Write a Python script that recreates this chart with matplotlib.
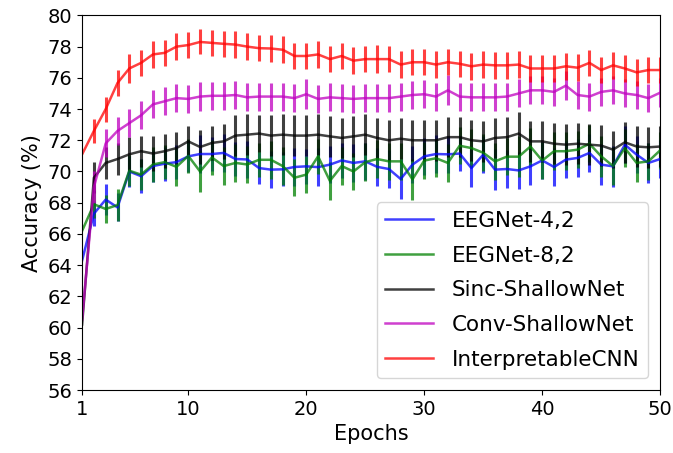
import matplotlib
matplotlib.use("Agg")
import matplotlib.pyplot as plt
import numpy as np

epochs = list(range(1, 51))

eegnet42 = [64.3, 67.3, 68.2, 67.7, 70.0, 69.7, 70.35, 70.5, 70.6, 70.97,
            71.12, 71.12, 71.19, 70.8, 70.77, 70.22, 70.12, 70.14, 70.29, 70.33,
            70.28, 70.44, 70.71, 70.55, 70.65, 70.3, 70.16, 69.52, 70.44, 70.97,
            71.12, 71.1, 71.15, 70.22, 71.08, 70.12, 70.16, 70.07, 70.33, 70.71,
            70.29, 70.76, 70.87, 71.19, 70.44, 70.33, 71.72, 71.08, 70.55, 70.8]
eegnet42_err = [0.0, 0.8, 1.0, 0.9, 1.0, 1.1, 1.0, 1.1, 1.1, 1.0,
                1.2, 1.1, 1.2, 1.1, 1.2, 1.0, 1.2, 1.1, 1.2, 1.1,
                1.2, 1.2, 1.1, 1.2, 1.2, 1.2, 1.2, 1.3, 1.2, 1.2,
                1.2, 1.2, 1.1, 1.2, 1.2, 1.3, 1.2, 1.2, 1.2, 1.2,
                1.2, 1.2, 1.2, 1.2, 1.3, 1.3, 1.2, 1.2, 1.3, 1.2]

eegnet82 = [66.2, 67.9, 67.6, 67.85, 70.05, 69.8, 70.45, 70.6, 70.3, 71.0,
            70.0, 70.9, 70.35, 70.55, 70.45, 70.75, 70.75, 70.35, 69.6, 69.8,
            70.97, 69.4, 70.35, 70.0, 70.6, 70.8, 70.65, 70.65, 69.5, 70.7,
            70.85, 70.55, 71.65, 71.5, 71.2, 70.65, 70.95, 70.95, 71.6, 70.7,
            71.3, 71.3, 71.4, 71.78, 70.97, 70.35, 71.5, 70.55, 70.65, 71.36]
eegnet82_err = [0.0, 0.9, 0.9, 1.0, 1.0, 1.0, 1.1, 1.1, 1.2, 1.1,
                1.3, 1.1, 1.2, 1.2, 1.2, 1.1, 1.2, 1.2, 1.2, 1.2,
                1.1, 1.2, 1.2, 1.2, 1.2, 1.2, 1.2, 1.2, 1.3, 1.2,
                1.2, 1.2, 1.2, 1.2, 1.2, 1.2, 1.2, 1.3, 1.2, 1.2,
                1.2, 1.2, 1.2, 1.2, 1.3, 1.2, 1.2, 1.2, 1.2, 1.2]

sinc = [60.2, 69.6, 70.55, 70.8, 71.1, 71.3, 71.15, 71.3, 71.5, 71.93,
        71.57, 71.83, 71.93, 72.3, 72.36, 72.43, 72.3, 72.36, 72.3, 72.3,
        72.36, 72.25, 72.15, 72.25, 72.36, 72.15, 72.0, 72.1, 72.0, 72.0,
        72.0, 72.2, 72.2, 72.0, 71.93, 72.15, 72.2, 72.43, 71.93, 71.93,
        71.78, 71.72, 71.78, 71.72, 71.66, 71.4, 71.87, 71.6, 71.55, 71.6]
sinc_err = [0.0, 1.0, 1.0, 1.0, 1.1, 1.0, 1.1, 1.1, 1.0, 1.0,
            1.1, 1.1, 1.1, 1.3, 1.3, 1.2, 1.3, 1.3, 1.3, 1.3,
            1.3, 1.3, 1.3, 1.3, 1.3, 1.3, 1.3, 1.3, 1.3, 1.3,
            1.3, 1.3, 1.3, 1.3, 1.3, 1.3, 1.3, 1.4, 1.3, 1.3,
            1.3, 1.3, 1.3, 1.3, 1.3, 1.2, 1.3, 1.3, 1.3, 1.3]

conv = [60.5, 69.0, 71.8, 72.6, 73.1, 73.6, 74.3, 74.5, 74.7, 74.65,
        74.8, 74.85, 74.85, 74.9, 74.75, 74.8, 74.8, 74.8, 74.7, 74.95,
        74.65, 74.75, 74.7, 74.65, 74.7, 74.7, 74.7, 74.8, 74.9, 74.95,
        74.8, 75.2, 74.8, 74.75, 74.75, 74.75, 74.8, 75.0, 75.2, 75.2,
        75.1, 75.5, 74.9, 74.8, 75.1, 75.2, 75.0, 74.9, 74.7, 75.05]
conv_err = [0.0, 1.0, 0.9, 0.9, 0.9, 0.9, 0.9, 0.9, 0.9, 0.9,
            0.95, 0.9, 0.9, 0.9, 0.9, 0.9, 0.9, 0.9, 0.9, 0.95,
            0.9, 0.9, 0.9, 0.9, 0.9, 0.9, 0.9, 0.9, 0.9, 0.9,
            0.9, 0.95, 0.9, 0.9, 0.9, 0.9, 0.9, 0.9, 0.9, 0.9,
            0.9, 0.95, 0.9, 0.9, 0.9, 0.9, 0.9, 0.9, 0.9, 0.95]

interp = [71.1, 72.6, 74.0, 75.67, 76.6, 76.96, 77.5, 77.6, 78.0, 78.1,
          78.3, 78.24, 78.18, 78.13, 78.0, 77.9, 77.88, 77.8, 77.4, 77.4,
          77.5, 77.2, 77.4, 77.1, 77.2, 77.2, 77.2, 76.85, 77.0, 77.0,
          76.85, 77.0, 76.9, 76.74, 76.85, 76.8, 76.8, 76.85, 76.6, 76.6,
          76.6, 76.74, 76.65, 76.96, 76.5, 76.8, 76.6, 76.35, 76.5, 76.5]
interp_err = [0.0, 0.75, 0.8, 0.85, 0.9, 0.85, 0.85, 0.85, 0.85, 0.85,
              0.8, 0.85, 0.85, 0.85, 0.85, 0.85, 0.85, 0.85, 0.85, 0.85,
              0.85, 0.85, 0.85, 0.85, 0.85, 0.9, 0.85, 0.85, 0.85, 0.85,
              0.85, 0.85, 0.85, 0.85, 0.85, 0.85, 0.85, 0.85, 0.85, 0.85,
              0.85, 0.85, 0.85, 0.85, 0.85, 0.85, 0.85, 0.85, 0.85, 0.85]

labels = ["EEGNet-4,2", "EEGNet-8,2", "Sinc-ShallowNet", "Conv-ShallowNet", "InterpretableCNN"]
colors = ["b", "g", "k", "m", "r"]
series = [eegnet42, eegnet82, sinc, conv, interp]
errors = [eegnet42_err, eegnet82_err, sinc_err, conv_err, interp_err]

xticks = [1, 10, 20, 30, 40, 50]
yticks = list(range(56, 81, 2))

fig = plt.figure(figsize=(6.73, 4.53), dpi=100)
ax = fig.add_axes([0.122, 0.139, 0.859, 0.827])

for y, e, c, lab in zip(series, errors, colors, labels):
    ax.errorbar(epochs, y, yerr=e, color=c, alpha=0.75, linewidth=1.8,
                elinewidth=2.2, capsize=0, label=lab)

ax.set_xlim(1, 50)
ax.set_ylim(56, 80)
ax.set_xticks(xticks)
ax.set_yticks(yticks)
ax.tick_params(labelsize=14)
ax.set_xlabel("Epochs", fontsize=15)
ax.set_ylabel("Accuracy (%)", fontsize=15)

handles, labs = ax.get_legend_handles_labels()
handles = [h[0] for h in handles]
ax.legend(handles, labs, loc="lower right", fontsize=15.5, labelspacing=0.68,
          handlelength=2.2, handletextpad=0.9, borderaxespad=0.55)

fig.savefig("out.png", dpi=100)
